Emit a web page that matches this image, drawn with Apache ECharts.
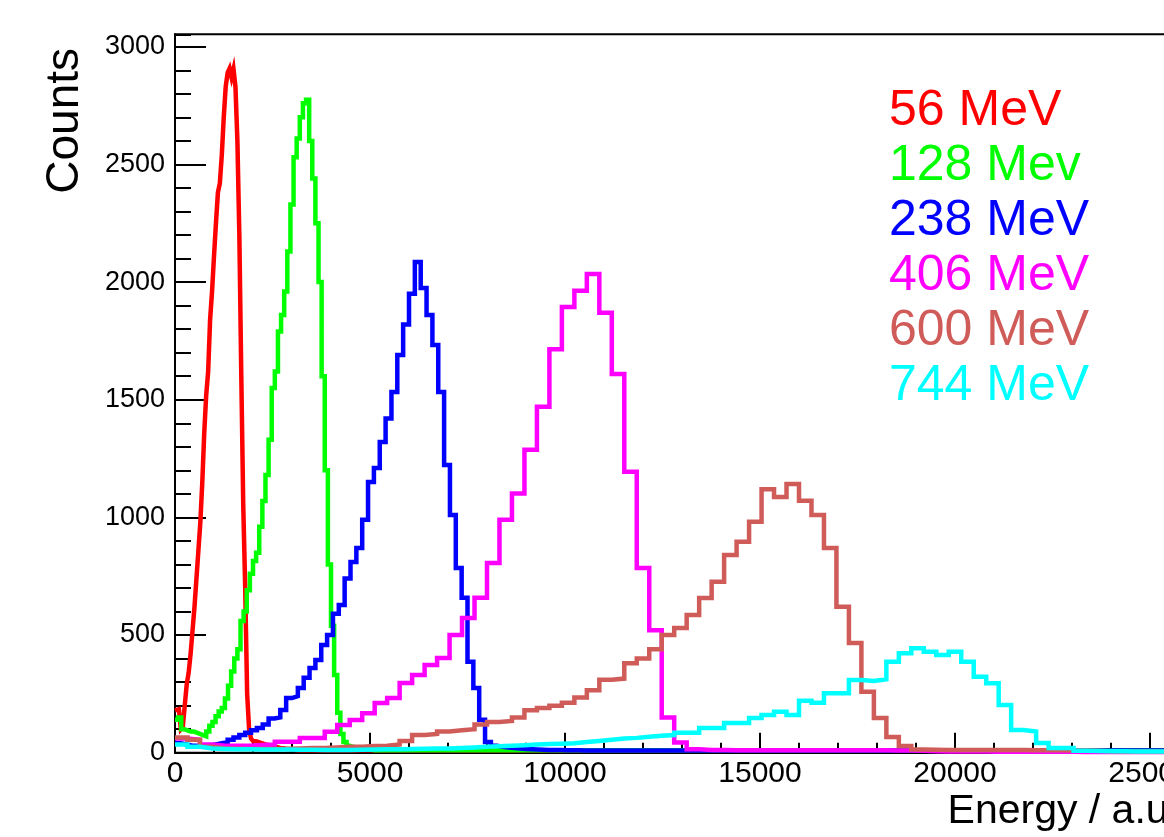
<!DOCTYPE html>
<html>
<head>
<meta charset="utf-8">
<script src="https://cdn.jsdelivr.net/npm/echarts@6/dist/echarts.min.js"></script>
<style>
html, body { margin: 0; padding: 0; background: #ffffff; }
#chart { width: 1164px; height: 837px; }
</style>
</head>
<body>
<div id="chart"></div>
<script>
// Energy deposit spectra for six beam energies, counts per bin.
const seriesNames = ['56 MeV', '128 Mev', '238 MeV', '406 MeV', '600 MeV', '744 MeV'];
const seriesColors = ['#ff0000', '#00ff00', '#0000ff', '#ff00ff', '#d05c5a', '#00ffff'];

// Bin widths (a.u.) of each histogram, all starting at 0
const binWidths = [50, 80, 150, 320, 320, 320];

const counts56 = [180, 185, 180, 100, 110, 200, 290, 340, 420, 520, 620, 740, 860, 980, 1150, 1360, 1520, 1620, 1840, 1960,
  2110, 2250, 2380, 2420, 2540, 2700, 2830, 2890, 2908, 2870, 2905, 2830, 2600, 2200, 1600, 1050, 700, 250, 100, 60,
  50, 48, 45, 42, 40, 36, 34, 32, 30, 28, 25, 24, 22, 20, 19, 18, 16, 15, 14, 13, 12, 11, 10, 10];

const counts128 = [140, 150, 100, 95, 90, 90, 85, 80, 75, 70, 90, 115, 130, 155, 175, 190, 230, 285, 345, 400,
  440, 560, 600, 690, 760, 815, 850, 960, 1070, 1180, 1330, 1550, 1620, 1790, 1860, 1960, 2130, 2330, 2530, 2610,
  2700, 2760, 2775, 2600, 2440, 2250, 2000, 1600, 1200, 800, 540, 330, 170, 80, 45, 30, 25, 22, 20, 18, 16, 14, 12, 10];

const counts238 = [40, 35, 30, 30, 30, 30, 35, 40, 45, 55, 65, 75, 85, 95, 105, 120, 145, 150, 181, 232,
  240, 275, 318, 360, 394, 458, 500, 590, 628, 740, 810, 870, 990, 1150, 1210, 1320, 1420, 1533, 1690, 1820,
  1950, 2085, 1975, 1860, 1733, 1533, 1223, 1010, 785, 658, 386, 275, 140, 45, 30, 25, 22, 20, 18, 16,
  15, 14, 13, 12, 12, 11, 10, 10, 10, 9];

const counts406 = [60, 55, 35, 30, 30, 30, 33, 35, 47, 47, 62, 62, 89, 118, 139, 168, 211, 232, 296, 330,
  373, 402, 500, 572, 658, 806, 990, 1102, 1287, 1470, 1715, 1894, 1963, 2034, 1870, 1609, 1194, 785, 520, 150,
  43, 15, 12, 11, 10, 10, 10, 10, 10, 10, 10, 10, 10, 10, 10, 10, 10, 9, 9, 8,
  6, 5, 5, 5, 5, 4, 4, 4, 4, 4, 4, 4, 3, 3, 3, 3, 3, 3, 3, 3];

const counts600 = [65, 55, 25, 18, 17, 16, 16, 16, 17, 18, 20, 20, 22, 25, 25, 28, 30, 35, 50, 75,
  80, 90, 95, 100, 120, 130, 135, 150, 180, 190, 200, 212, 235, 265, 310, 315, 380, 400, 440, 500,
  530, 585, 657, 727, 840, 897, 982, 1120, 1087, 1142, 1071, 1010, 870, 620, 466, 259, 147, 67, 28, 14,
  13, 12, 12, 12, 12, 12, 11, 11, 10, 10, 10, 9, 9, 8, 6, 5, 5, 5, 5, 5];

const counts744 = [35, 25, 18, 16, 15, 15, 14, 14, 14, 13, 13, 12, 12, 12, 13, 14, 15, 15, 16, 17,
  18, 18, 20, 22, 25, 27, 30, 32, 35, 37, 38, 40, 45, 50, 55, 60, 63, 68, 72, 75,
  85, 85, 105, 105, 126, 126, 147, 160, 174, 160, 221, 212, 253, 253, 309, 305, 312, 387, 423, 444,
  429, 415, 429, 387, 323, 295, 203, 96, 90, 41, 20, 20, 8, 7, 6, 6, 5, 5, 5, 5];

const allCounts = [counts56, counts128, counts238, counts406, counts600, counts744];

// Axis ranges and tick labels
const xRange = [0, 25600];
const yRange = [0, 3053];
const xTickLabels = [0, 5000, 10000, 15000, 20000, 25000];
const yTickLabels = [0, 500, 1000, 1500, 2000, 2500, 3000];
const xMinorStep = 1000;
const yMinorStep = 100;

// Histogram outline: one point per bin low edge, drawn as a step line,
// closed at the last bin's high edge and continued flat to the axis end.
function histogramPoints(counts, width) {
  const pts = counts.map((c, i) => [i * width, c]);
  const last = counts[counts.length - 1];
  pts.push([counts.length * width, last]);
  if (counts.length * width < xRange[1]) pts.push([xRange[1], last]);
  return pts;
}

const FONT = '"Liberation Sans", Arial, Helvetica, sans-serif';
const plainNumber = v => String(v);

const chart = echarts.init(document.getElementById('chart'), null, { renderer: 'canvas' });

const axisBlack = { color: '#000000', width: 2 };

const option = {
  animation: false,
  backgroundColor: '#ffffff',
  grid: {
    left: 175, top: 34.3, right: -9.4, bottom: 84.3,
    show: true, borderColor: '#000000', borderWidth: 2,
    containLabel: false, outerBoundsMode: 'none'
  },
  xAxis: [
    {
      type: 'value', position: 'bottom',
      min: xRange[0], max: xRange[1], interval: xTickLabels[1] - xTickLabels[0],
      axisLine: { show: true, lineStyle: axisBlack },
      axisTick: { show: true, inside: true, length: 20, lineStyle: axisBlack },
      axisLabel: { show: true, margin: 6, color: '#000000', fontFamily: FONT, fontSize: 30,
                   formatter: plainNumber, showMaxLabel: false, showMinLabel: true },
      splitLine: { show: false }
    },
    {
      type: 'value', position: 'bottom',
      min: xRange[0], max: xRange[1], interval: xMinorStep,
      axisLine: { show: false },
      axisTick: { show: true, inside: true, length: 10, lineStyle: axisBlack },
      axisLabel: { show: false },
      splitLine: { show: false }
    }
  ],
  yAxis: [
    {
      type: 'value', position: 'left',
      min: yRange[0], max: yRange[1], interval: yTickLabels[1] - yTickLabels[0],
      axisLine: { show: true, lineStyle: axisBlack },
      axisTick: { show: true, inside: true, length: 31, lineStyle: axisBlack },
      axisLabel: { show: true, margin: 10, color: '#000000', fontFamily: FONT, fontSize: 27,
                   formatter: plainNumber, showMaxLabel: false, showMinLabel: true },
      splitLine: { show: false }
    },
    {
      type: 'value', position: 'left',
      min: yRange[0], max: yRange[1], interval: yMinorStep,
      axisLine: { show: false },
      axisTick: { show: true, inside: true, length: 16, lineStyle: axisBlack },
      axisLabel: { show: false },
      splitLine: { show: false }
    }
  ],
  series: allCounts.map((counts, k) => ({
    name: seriesNames[k],
    type: 'line',
    xAxisIndex: 0,
    yAxisIndex: 0,
    step: 'end',
    symbol: 'none',
    silent: true,
    lineStyle: { color: seriesColors[k], width: 4.5, join: 'miter' },
    itemStyle: { color: seriesColors[k] },
    data: histogramPoints(counts, binWidths[k])
  })),
  graphic: [
    {
      type: 'text', x: 65, y: 48, rotation: Math.PI / 2, silent: true,
      style: { text: 'Counts', fill: '#000000', font: '46px ' + FONT,
               align: 'right', verticalAlign: 'middle', textAlign: 'right', textVerticalAlign: 'middle' }
    },
    {
      type: 'text', x: 1180, y: 812, silent: true,
      style: { text: 'Energy / a.u.', fill: '#000000', font: '41px ' + FONT,
               align: 'right', verticalAlign: 'middle', textAlign: 'right', textVerticalAlign: 'middle' }
    }
  ].concat(seriesNames.map((name, k) => ({
    type: 'text', x: 889, y: 111.5 + 55 * k, silent: true,
    style: { text: name, fill: seriesColors[k], font: '50px ' + FONT,
             align: 'left', verticalAlign: 'middle', textAlign: 'left', textVerticalAlign: 'middle' }
  })))
};

chart.setOption(option);
</script>
</body>
</html>
